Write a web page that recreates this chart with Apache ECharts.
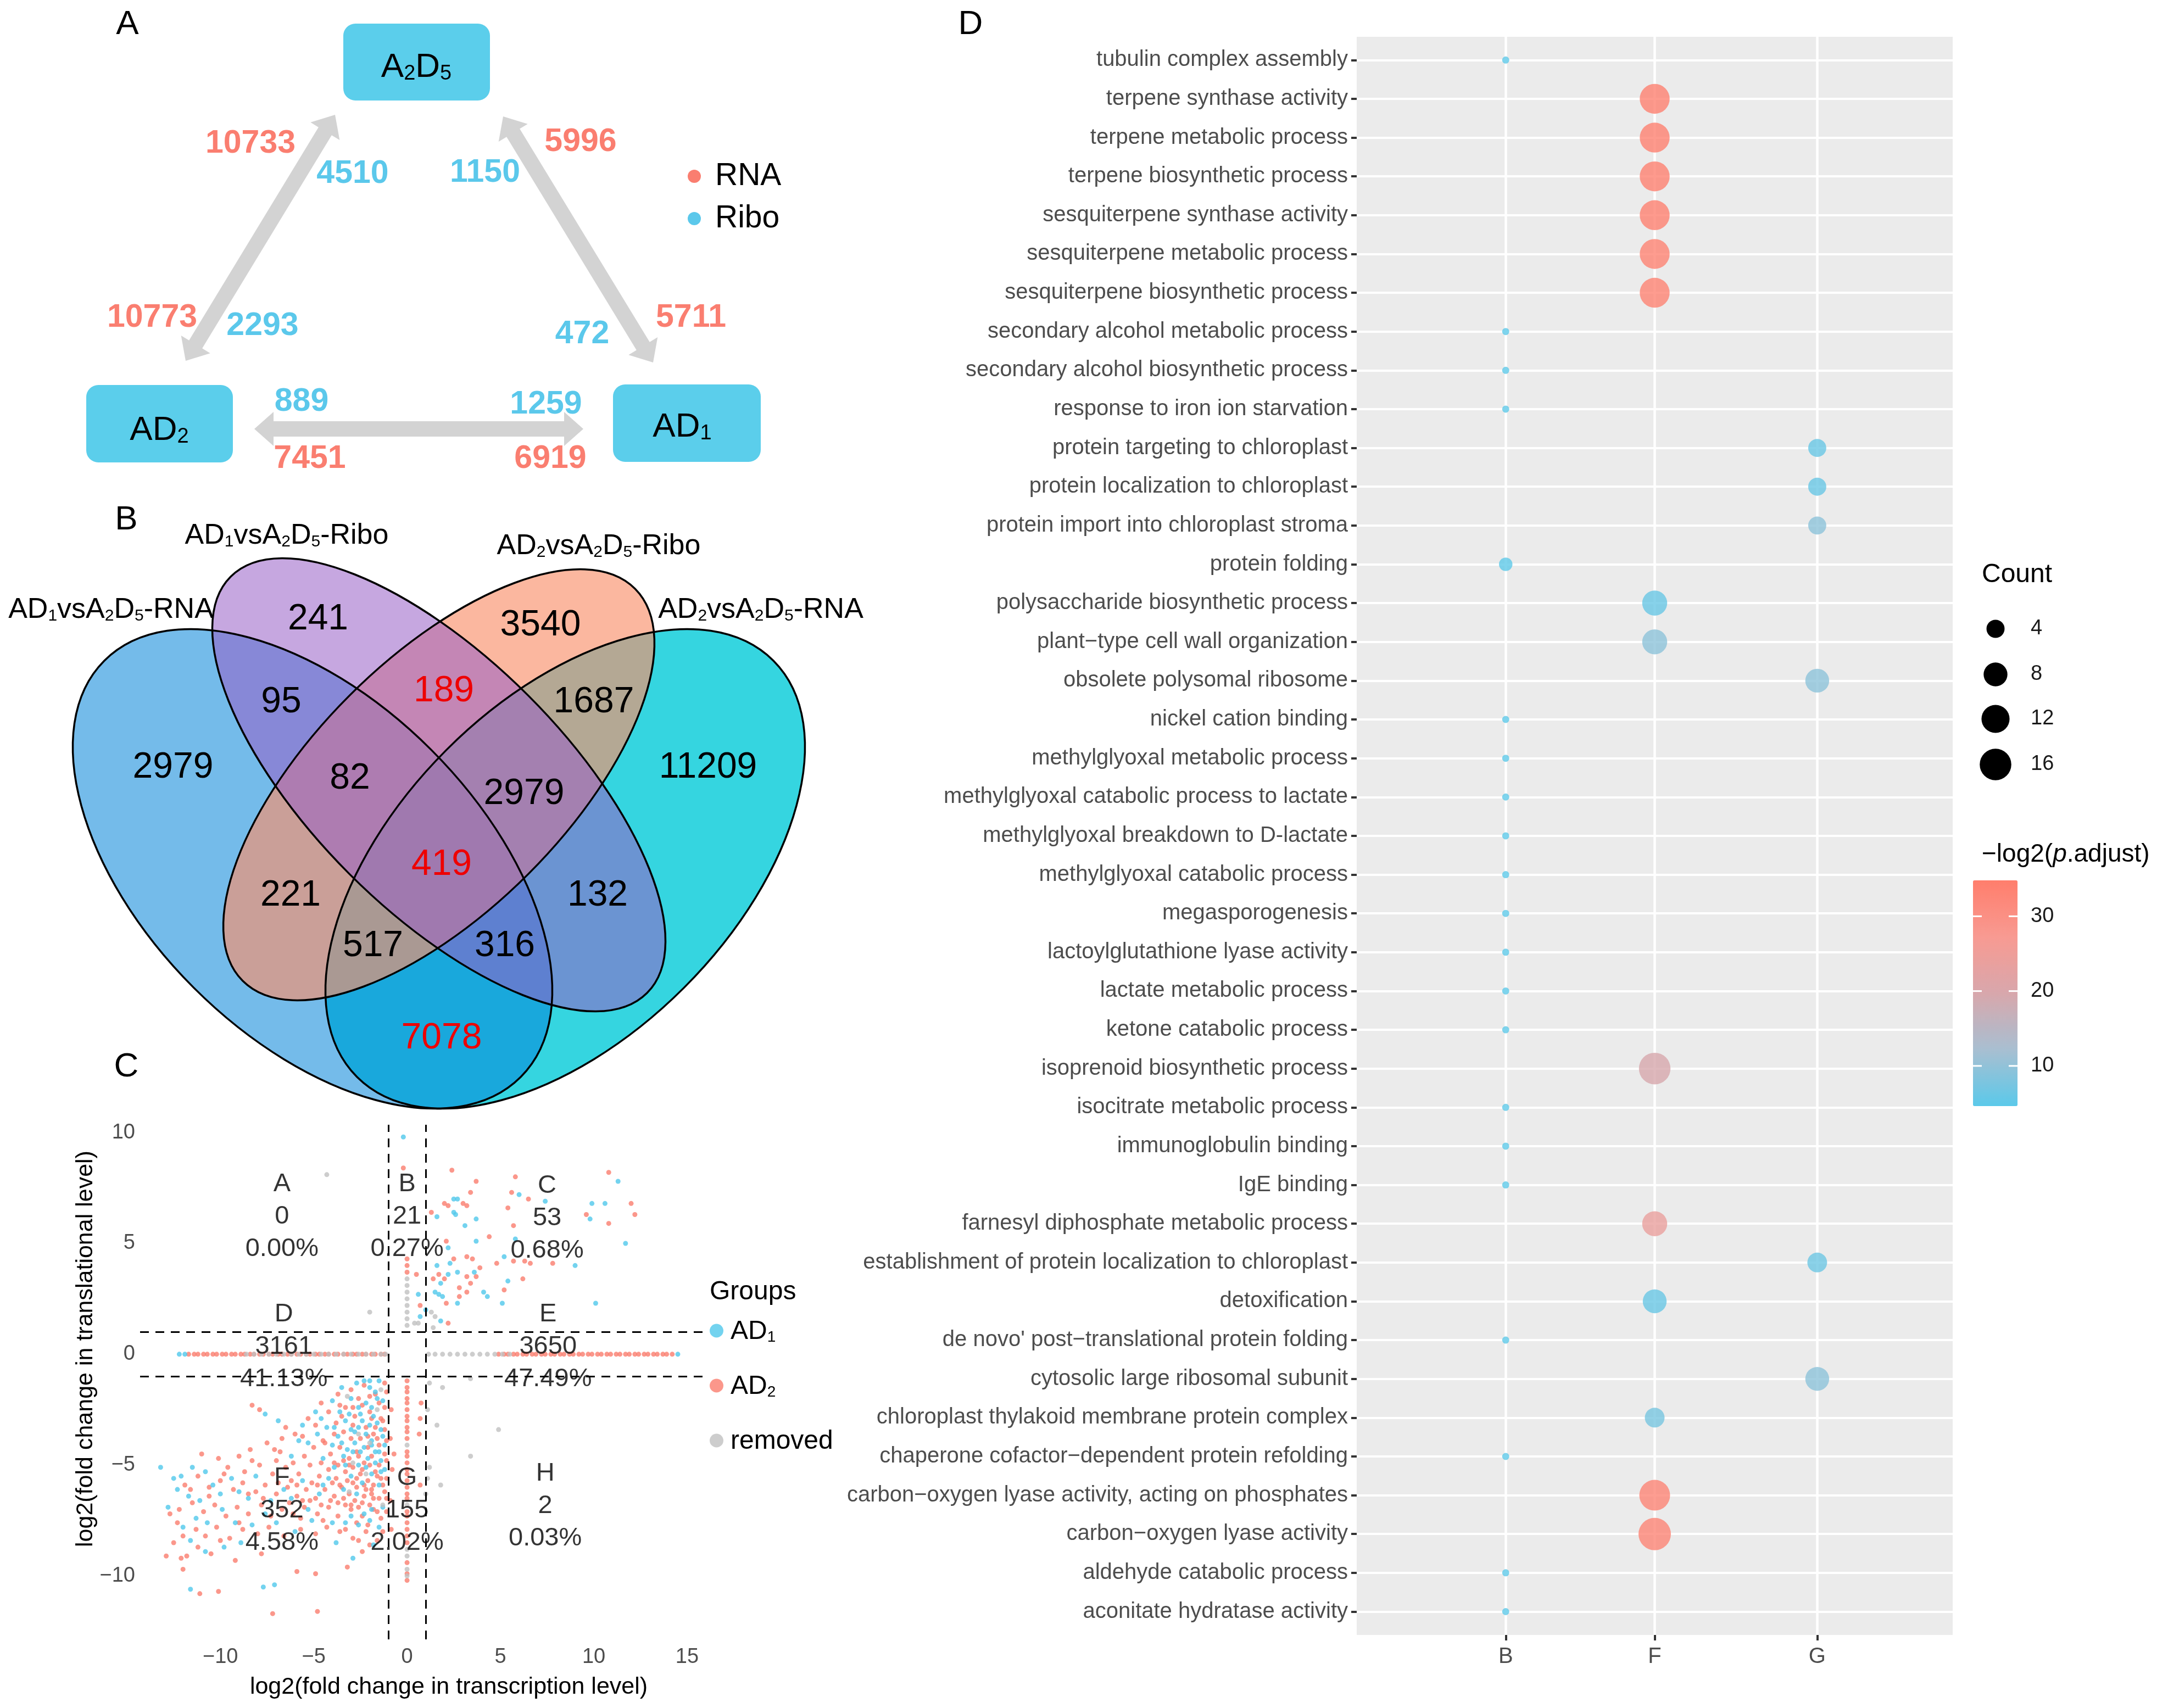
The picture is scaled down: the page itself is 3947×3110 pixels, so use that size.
<!DOCTYPE html>
<html><head><meta charset="utf-8">
<script src="https://cdn.jsdelivr.net/npm/echarts@6/dist/echarts.min.js"></script>
<style>html,body{margin:0;padding:0;background:#fff}#c{width:3947px;height:3110px}</style>
</head><body><div id="c"></div>
<script>
const FONT = 'Liberation Sans, Arial, Helvetica, sans-serif';

// ---------------- Panel A data ----------------
const aNodes = ['A_2D_5', 'AD_2', 'AD_1'];
// numbers at each arrow end, order: A2D5 end / AD2 end of left arrow, A2D5 end / AD1 end of right arrow, AD2 end / AD1 end of bottom arrow
const aRNA  = [10733, 10773, 5996, 5711, 7451, 6919];
const aRibo = [4510, 2293, 1150, 472, 889, 1259];
const aLegend = ['RNA', 'Ribo'];

// ---------------- Panel B data ----------------
const vennSets = ['AD_1vsA_2D_5-RNA', 'AD_1vsA_2D_5-Ribo', 'AD_2vsA_2D_5-Ribo', 'AD_2vsA_2D_5-RNA'];
const vennCounts = [241, 3540, 95, 189, 1687, 2979, 82, 2979, 11209, 419, 221, 132, 517, 316, 7078];
const vennRed = [3, 9, 14];

// ---------------- Panel C data ----------------
const cGroups = ['AD_1', 'AD_2', 'removed'];
const cThresh = [-1, 1];
const quadNames  = ['A', 'B', 'C', 'D', 'E', 'F', 'G', 'H'];
const quadCounts = [0, 21, 53, 3161, 3650, 352, 155, 2];
const quadPct    = ['0.00%', '0.27%', '0.68%', '41.13%', '47.49%', '4.58%', '2.02%', '0.03%'];

const ad2Upper = [[-0.2,8.4],[2.4,8.3],[5.8,8.0],[10.8,8.2],[3.7,7.8],[3.4,7.3],[5.6,7.3],[6.5,7.0],[2.0,6.8],[2.2,6.7],[3.0,6.8],[3.2,6.7],[1.3,6.4],[5.4,6.6],[12.0,6.8],[12.2,6.3],[9.6,6.3],[10.8,5.9],[5.7,5.8],[4.4,5.3],[2.1,5.1],[3.2,4.4],[3.5,4.3],[2.5,4.3],[4.8,4.1],[5.7,4.2],[6.3,4.2],[6.6,4.1],[7.8,4.1],[3.9,3.9],[3.7,3.5],[3.2,3.5],[1.7,3.6],[0.5,3.6],[6.2,3.4],[3.4,3.2],[2.8,3.0],[1.4,3.4],[2.0,3.4],[5.2,2.9],[3.2,2.8],[2.8,2.6],[2.1,2.3],[0.7,2.2],[2.2,1.4]];
const ad2Lower = [[-8.3,-2.3],[-7.9,-2.5],[-6.5,-3.3],[-6.0,-3.6],[-5.3,-2.9],[-4.6,-2.2],[-4.2,-2.6],[-3.7,-1.8],[-3.3,-2.4],[-3.0,-1.6],[-2.6,-2.0],[-2.3,-1.4],[-2.0,-2.6],[-1.7,-1.8],[-1.4,-2.9],[-1.2,-1.3],
 [-3.8,-3.1],[-3.4,-3.5],[-2.9,-3.2],[-2.5,-3.8],[-2.2,-3.3],[-1.8,-3.6],[-1.5,-4.1],[-1.2,-3.4],[-4.5,-3.9],[-5.0,-4.2],[-4.1,-4.5],[-3.6,-4.2],[-3.1,-4.7],[-2.7,-4.4],[-2.3,-4.9],[-1.9,-4.6],[-1.5,-5.0],[-1.2,-4.5],
 [-6.8,-4.4],[-7.5,-4.0],[-8.4,-4.3],[-9.0,-4.6],[-10.1,-4.7],[-11.0,-4.5],[-9.6,-5.1],[-8.7,-5.3],[-7.9,-5.0],[-7.2,-5.4],[-6.5,-5.1],[-5.8,-5.4],[-5.2,-5.0],[-4.7,-5.5],[-4.2,-5.2],[-3.8,-5.6],[-3.3,-5.3],[-2.9,-5.8],[-2.5,-5.4],[-2.1,-5.7],[-1.7,-5.3],[-1.3,-5.9],
 [-11.9,-5.9],[-11.2,-5.5],[-10.6,-6.0],[-10.0,-5.7],[-9.3,-6.1],[-8.8,-5.8],[-8.1,-6.2],[-7.6,-5.9],[-7.0,-6.3],[-6.4,-6.0],[-5.9,-6.4],[-5.4,-6.1],[-4.9,-6.5],[-4.4,-6.1],[-3.9,-6.4],[-3.5,-6.0],[-3.1,-6.3],[-2.7,-6.0],[-2.3,-6.4],[-1.9,-6.1],[-1.5,-6.5],[-1.2,-6.2],[-3.6,-5.9],[-3.2,-5.7],[-2.8,-6.6],[-2.0,-6.8],
 [-12.7,-7.2],[-12.2,-7.0],[-11.5,-6.7],[-10.9,-7.1],[-10.3,-6.8],[-9.7,-7.3],[-9.1,-6.9],[-8.5,-7.2],[-7.8,-6.8],[-7.3,-7.3],[-6.7,-7.0],[-6.1,-7.2],[-5.5,-6.9],[-4.8,-7.2],[-4.2,-6.9],[-3.7,-7.3],[-3.0,-7.0],[-2.4,-7.3],[-1.8,-7.0],[-1.4,-7.4],
 [-12.0,-8.2],[-11.3,-7.9],[-10.8,-8.2],[-10.2,-7.8],[-9.5,-8.3],[-8.8,-7.9],[-8.0,-8.1],[-7.4,-7.8],[-6.6,-8.2],[-5.7,-7.9],[-4.9,-8.1],[-4.3,-7.8],[-3.6,-8.0],[-2.9,-8.3],[-2.2,-8.0],[-1.6,-8.4],
 [-12.9,-9.1],[-12.1,-9.2],[-12.0,-9.7],[-11.2,-8.7],[-10.5,-9.0],[-9.2,-9.3],[-7.8,-9.0],[-5.9,-9.8],[-4.9,-9.9],[-3.2,-9.6],[-2.4,-8.9],
 [-11.1,-10.8],[-10.1,-10.7],[-7.2,-11.7],[-4.8,-11.6],
 [-3.9,-4.9],[-3.4,-4.8],[-2.9,-5.1],[-2.4,-5.2],[-2.0,-5.0],[-1.6,-5.5],[-3.7,-6.7],[-3.3,-6.8],[-2.6,-6.9],[-2.2,-6.1],[-1.8,-5.9],[-1.4,-5.6],[-4.0,-5.8],[-4.6,-6.8],[-5.1,-5.8],[-5.6,-6.6],[-6.2,-5.7],[-6.9,-5.8],[-2.6,-4.6],[-2.1,-4.2],[-1.6,-3.8],[-1.3,-3.0],[-2.8,-2.8],[-3.5,-2.8],[-2.4,-2.3],[-1.9,-2.9],
 [-4.4,-4.0],[-3.9,-3.6],[-3.0,-3.8],[-2.1,-3.7],[-1.7,-3.3],[-1.1,-3.9],[-1.1,-4.8],[-1.1,-5.6],[-1.1,-6.5],[-1.1,-7.1],[-1.8,-6.5],[-2.4,-6.7],[-3.0,-6.8],[-3.4,-6.5],[-4.1,-6.6],[-4.5,-7.5],[-5.2,-6.6],[-5.7,-7.4],[-6.3,-6.7],[-2.7,-7.6],[-2.1,-7.7],[-1.3,-8.0],[-3.3,-7.9],[-2.0,-8.6],[-2.6,-8.4],[-4.6,-4.9],[-5.5,-4.6],[-6.1,-4.9],[-7.0,-4.8],[-3.6,-2.3],[-2.9,-2.4],[-2.0,-1.9],[-1.5,-2.2],[-1.2,-2.4],[-1.1,-1.7],[-4.9,-3.2],[-5.6,-3.7],[-3.1,-5.0],[-2.7,-5.6],[-2.3,-5.9],[-1.9,-6.3],[-1.6,-7.1],[-3.7,-5.0],[-4.8,-5.9],[-5.9,-5.9],[-7.7,-6.5],[-8.5,-6.3],[-9.0,-7.6],[-10.0,-8.4],[-10.6,-6.4],[-11.6,-6.1],[-12.3,-7.6],[-12.5,-8.5],[-11.8,-9.1],[-9.8,-5.4],[-8.3,-4.8],[-7.1,-4.3],[-6.7,-3.8],
 [0.75,-2.2],[0.7,-2.9],[0.65,-3.6],[0.7,-5.9],[-0.85,-2.5],[-0.9,-3.8],[-0.8,-5.2],[-0.9,-6.6],[-0.85,-7.9],[-0.7,-4.5]];
const ad2BandH = [-11.7,-11.4,-11.2,-10.9,-10.7,-10.4,-10.2,-9.9,-9.7,-9.4,-9.2,-8.9,-8.7,-8.4,-8.2,-7.9,-7.7,-7.4,-7.2,-6.9,-6.7,-6.4,-6.2,-5.9,-5.7,-5.4,-5.2,-4.9,-4.7,-4.4,-4.2,-3.9,-3.7,-3.4,-3.2,-2.9,-2.7,-2.4,-2.2,-1.9,-1.7,-1.4,-1.2,
 4.9,5.2,5.4,5.7,5.9,6.2,6.4,6.7,6.9,7.2,7.4,7.7,7.9,8.2,8.4,8.7,8.9,9.2,9.4,9.7,9.9,10.2,10.4,10.7,10.9,11.2,11.4,11.7,11.9,12.2,12.4,12.7,12.9,13.2,13.4,13.7,13.9,14.2];
const ad2BandV = [4.3,4.0,3.7,-1.2,-1.5,-1.7,-2.0,-2.2,-2.5,-2.8,-3.0,-3.3,-3.5,-3.8,-4.4,-4.6,-4.9,-5.2,-5.4,-5.7,-6.0,-6.3,-6.5,-7.1,-7.3,-7.6,-7.9,-8.2,-8.5,-9.4,-9.9,-10.2];

const ad1Upper = [[-0.2,9.8],[11.3,7.8],[6.0,7.2],[2.5,7.0],[2.7,7.0],[2.5,6.4],[1.6,6.2],[2.6,6.3],[7.4,6.9],[9.9,6.8],[10.6,6.8],[9.8,6.1],[3.7,6.1],[3.1,5.8],[5.8,5.2],[11.7,5.0],[3.7,5.1],[2.2,4.8],[2.3,4.1],[9.0,4.0],[5.2,4.4],[1.6,4.0],[3.6,3.7],[2.7,3.7],[2.2,3.6],[5.4,3.3],[1.8,3.2],[1.5,2.8],[4.1,2.8],[1.7,2.7],[1.9,2.6],[4.3,2.6],[0.6,2.7],[2.7,2.3],[5.1,2.3],[10.1,2.3],[1.0,2.0],[1.8,1.5],[0.7,1.7]];
const ad1Lower = [[-7.6,-2.7],[-6.9,-3.0],[-5.6,-3.2],[-4.9,-2.6],[-4.0,-2.1],[-3.5,-1.5],[-3.0,-2.0],[-2.7,-1.3],[-2.3,-1.2],[-2.0,-1.5],[-1.7,-1.7],[-1.5,-1.2],[-1.3,-2.1],[-2.2,-2.2],[-2.5,-2.7],[-1.9,-2.4],
 [-3.3,-3.0],[-2.8,-3.5],[-2.4,-3.0],[-2.0,-3.2],[-1.6,-3.1],[-1.3,-3.7],[-1.9,-3.9],[-2.3,-4.2],[-2.8,-4.0],[-3.2,-4.3],[-3.7,-3.7],[-4.3,-3.3],[-4.8,-3.6],[-5.3,-4.0],[-5.8,-3.9],[-6.2,-4.6],[-1.7,-4.4],[-1.4,-4.8],[-2.1,-4.7],[-2.6,-5.0],[-3.0,-5.5],[-3.4,-4.6],[-4.0,-4.1],[-4.5,-4.7],
 [-13.2,-5.1],[-12.5,-5.6],[-12.1,-5.5],[-11.5,-5.1],[-10.8,-5.3],[-10.0,-6.3],[-9.4,-5.6],[-8.5,-6.5],[-7.3,-6.6],[-6.2,-6.5],[-5.3,-7.0],[-4.5,-5.9],[-3.9,-5.1],[-2.4,-5.8],[-1.9,-5.4],[-1.5,-5.9],[-1.2,-5.2],
 [-12.8,-6.9],[-12.3,-6.1],[-11.7,-6.4],[-11.3,-7.4],[-10.7,-7.6],[-9.9,-7.0],[-9.2,-7.6],[-8.3,-7.7],[-7.0,-7.6],[-6.0,-8.0],[-5.1,-7.5],[-4.0,-7.6],[-3.3,-7.6],[-2.6,-7.7],[-2.0,-7.5],[-1.5,-7.8],
 [-11.6,-8.4],[-10.8,-8.9],[-9.8,-8.7],[-8.9,-8.5],[-3.8,-8.5],[-2.9,-9.2],[-1.8,-8.6],
 [-3.6,-2.6],[-3.1,-2.7],[-2.6,-2.4],[-1.8,-2.8],[-1.4,-3.4],[-2.2,-3.6],[-2.6,-3.3],[-3.0,-3.4],[-3.5,-4.0],[-2.5,-4.4],[-1.9,-4.1],[-1.5,-4.4],[-1.2,-4.1],[-2.9,-4.4],[-3.3,-5.0],[-2.2,-5.1],[-1.7,-4.9],[-1.4,-5.3],[-2.7,-6.3],[-3.4,-6.1],[-4.2,-5.6],[-4.7,-6.3],[-5.6,-5.7],[-6.6,-6.1],[-7.6,-7.2],[-8.1,-5.5],[-9.0,-6.2],[-10.4,-5.9],[-11.1,-6.6],[-12.0,-7.8],[-1.9,-7.0],[-2.3,-7.2],[-3.0,-7.3],[-1.3,-6.9],[-3.9,-3.3],[-4.6,-2.9],[-2.0,-1.2],[-1.6,-2.0],
 [-11.6,-10.6],[-7.7,-10.5],[-7.1,-10.4],[-12.2,0],[-11.9,0],[14.5,0]];
const removedPts = [[-4.3,8.1],[-2.0,1.9],[1.3,1.9],[1.5,1.7],[0.6,1.4],[1.4,1.2],[0.4,1.4],
 [1.2,-1.3],[1.9,-1.5],[3.4,-1.1],[1.1,-2.5],[1.6,-3.2],[4.9,-3.4],[3.4,-4.6],[1.2,-5.1],[1.8,-5.9],[1.1,-5.6],[1.0,-6.3],
 [-3.2,-1.9],[-2.6,-3.6],[-2.2,-5.4],[-3.1,-6.2],[-1.3,-6.8],[-2.0,-4.0],[-1.6,-2.5],[-2.9,-4.9],[-1.4,-1.6]];
const removedBandH = [-8.6,-8.2,-7.8,-7.4,-7.0,-6.6,-6.2,-5.8,-5.4,-5.0,-4.6,-4.2,-3.8,-3.4,-3.0,-2.6,-2.2,-1.8,-1.4,-1.15,1.15,1.5,1.9,2.3,2.7,3.1,3.5,3.9,4.3,4.7,5.1,5.5];
const removedBandV = [3.4,3.1,2.8,2.5,2.2,1.9,1.6,1.3,-4.1,-6.8,-8.8,-9.1,-9.7,-10.0];

// ---------------- Panel D data ----------------
const dTerms = ['tubulin complex assembly','terpene synthase activity','terpene metabolic process','terpene biosynthetic process','sesquiterpene synthase activity','sesquiterpene metabolic process','sesquiterpene biosynthetic process','secondary alcohol metabolic process','secondary alcohol biosynthetic process','response to iron ion starvation','protein targeting to chloroplast','protein localization to chloroplast','protein import into chloroplast stroma','protein folding','polysaccharide biosynthetic process','plant\u2212type cell wall organization','obsolete polysomal ribosome','nickel cation binding','methylglyoxal metabolic process','methylglyoxal catabolic process to lactate','methylglyoxal breakdown to D-lactate','methylglyoxal catabolic process','megasporogenesis','lactoylglutathione lyase activity','lactate metabolic process','ketone catabolic process','isoprenoid biosynthetic process','isocitrate metabolic process','immunoglobulin binding','IgE binding','farnesyl diphosphate metabolic process','establishment of protein localization to chloroplast','detoxification',"de novo' post\u2212translational protein folding",'cytosolic large ribosomal subunit','chloroplast thylakoid membrane protein complex','chaperone cofactor\u2212dependent protein refolding','carbon\u2212oxygen lyase activity, acting on phosphates','carbon\u2212oxygen lyase activity','aldehyde catabolic process','aconitate hydratase activity'];
const dGroup = ['B','F','F','F','F','F','F','B','B','B','G','G','G','B','F','F','G','B','B','B','B','B','B','B','B','B','F','B','B','B','F','G','F','B','G','F','B','F','F','B','B'];
const dCount = [1,14,14,14,14,14,14,1,1,1,4,4,4,2,9,9,8,1,1,1,1,1,1,1,1,1,16,1,1,1,9,5,8,1,8,5,1,15,17,1,1];
const dScore = [5,34,34,34,34,33.5,33.5,5,5,5,6,6,9.5,5,6,9.5,9.5,5,5,5,5,5,5,5,5,5,19.5,5,5,5,24,6.5,6,5,9.5,7.5,5,33,33,5,5];
const dXCats = ['B','F','G'];
const countLegend = [4, 8, 12, 16];
const colorTicks = [30, 20, 10];
const colorRange = [4.63, 34.8];

// ---------------- helpers / styles ----------------
const RED = '#FA7E70', BLUE = '#5BC8EB';
const sizeFn = c => 13 + 46 * Math.sqrt((c - 1) / 16);
const subRich = (s) => s.split(/_(\d)/).map((p, i) => p === '' ? '' : (i % 2 ? '{s|' + p + '}' : '{n|' + p + '}')).join('');
const richFor = (n, s, col, sLH) => ({ n: {fontSize: n, fontFamily: FONT, fill: col, color: col, verticalAlign: 'bottom', lineHeight: Math.round(n * 1.15)},
                                  s: {fontSize: s, fontFamily: FONT, fill: col, color: col, verticalAlign: 'bottom', lineHeight: sLH || s} });
function txt(x, y, text, size, color, extra) {
  return Object.assign({type: 'text', x, y, silent: true,
    style: Object.assign({text: String(text), fontSize: size, fontFamily: FONT, fill: color, align: 'center', verticalAlign: 'middle'}, (extra && extra.style) || {})},
    extra && extra.rotation !== undefined ? {rotation: extra.rotation} : {});
}
function arrowPts(x1, y1, x2, y2, shaft, headW, headL) {
  const L = Math.hypot(x2 - x1, y2 - y1), dx = (x2 - x1) / L, dy = (y2 - y1) / L, nx = -dy, ny = dx;
  const b1 = [x1 + dx * headL, y1 + dy * headL], b2 = [x2 - dx * headL, y2 - dy * headL];
  const o = (p, s) => [p[0] + nx * s, p[1] + ny * s];
  return [[x1, y1], o(b1, headW / 2), o(b1, shaft / 2), o(b2, shaft / 2), o(b2, headW / 2), [x2, y2], o(b2, -headW / 2), o(b2, -shaft / 2), o(b1, -shaft / 2), o(b1, -headW / 2)];
}

const G = [];
// panel letters
[['A', 232, 45], ['B', 230, 947], ['C', 230, 1943], ['D', 1767, 45]].forEach(p => G.push(txt(p[1], p[2], p[0], 62, '#000')));

// ---- Panel A ----
const aBoxes = [[625, 43, 267, 140], [157, 701, 267, 141], [1116, 700, 269, 141]];
const aBoxText = [[758, 118], [290, 779], [1242, 773]];
const aArrows = [[338, 657, 610, 209], [916, 212, 1189, 660], [463, 781, 1062, 781]];
aArrows.forEach(a => G.push({type: 'polygon', silent: true, shape: {points: arrowPts(a[0], a[1], a[2], a[3], 28, 62, 35)}, style: {fill: '#D3D3D3'}}));
aBoxes.forEach((b, i) => {
  G.push({type: 'rect', silent: true, shape: {x: b[0], y: b[1], width: b[2], height: b[3], r: 22}, style: {fill: '#5BCEEB'}});
  G.push({type: 'text', x: aBoxText[i][0], y: aBoxText[i][1], silent: true,
    style: {text: subRich(aNodes[i]), align: 'center', verticalAlign: 'middle', rich: richFor(62, 38, '#000', 30)}});
});
const aRnaAt  = [[456, 262], [277, 579], [1057, 259], [1258, 579], [564, 836], [1002, 836]];
const aRiboAt = [[642, 317], [478, 594], [883, 315], [1060, 609], [549, 732], [994, 737]];
aRNA.forEach((v, i) => G.push(txt(aRnaAt[i][0], aRnaAt[i][1], v, 59, RED, {style: {fontWeight: 'bold'}})));
aRibo.forEach((v, i) => G.push(txt(aRiboAt[i][0], aRiboAt[i][1], v, 59, BLUE, {style: {fontWeight: 'bold'}})));
aLegend.forEach((t, i) => {
  G.push({type: 'circle', silent: true, shape: {cx: 1264, cy: 321 + i * 77, r: 12}, style: {fill: i ? BLUE : RED}});
  G.push(txt(1302, 321 + i * 77, t, 57, '#000', {style: {align: 'left'}}));
});

// ---- Panel B (Venn) ----
const vennShapes = [ // cx, cy, rx, ry, rotation, fill ; drawing order: cyan, blue, peach, purple
  [1029, 1582, 536, 306,  Math.PI / 4, 'rgba(3,202,216,0.8)'],
  [569,  1582, 536, 306, -Math.PI / 4, 'rgba(2,131,217,0.55)'],
  [799,  1429, 505, 230,  Math.PI / 4, 'rgba(249,145,108,0.65)'],
  [799,  1429, 536, 230, -Math.PI / 4, 'rgba(151,95,199,0.55)']];
vennShapes.forEach(e => G.push({type: 'ellipse', silent: true, x: e[0], y: e[1], rotation: e[4], shape: {cx: 0, cy: 0, rx: e[2], ry: e[3]}, style: {fill: e[5]}}));
vennShapes.forEach(e => G.push({type: 'ellipse', silent: true, x: e[0], y: e[1], rotation: e[4], shape: {cx: 0, cy: 0, rx: e[2], ry: e[3]}, style: {fill: 'none', stroke: '#000', lineWidth: 3.5}}));
const vennAt = [[579, 1128], [984, 1139], [512, 1279], [808, 1259], [1081, 1279], [315, 1398], [637, 1418], [954, 1446], [1289, 1398], [804, 1575], [529, 1631], [1088, 1631], [679, 1723], [919, 1723], [804, 1891]];
vennCounts.forEach((v, i) => G.push(txt(vennAt[i][0], vennAt[i][1], v, 66, vennRed.includes(i) ? '#EE0000' : '#000')));
const vennSetAt = [[202, 1107], [522, 972], [1090, 991], [1385, 1107]];
vennSets.forEach((s, i) => G.push({type: 'text', x: vennSetAt[i][0], y: vennSetAt[i][1], silent: true,
  style: {text: subRich(s), align: 'center', verticalAlign: 'middle', rich: richFor(52, 30, '#000')}}));

// ---- Panel C extras ----
G.push(txt(817, 3072, 'log2(fold change in transcription level)', 43, '#000'));
G.push(txt(156, 2456, 'log2(fold change in translational level)', 43, '#000', {rotation: Math.PI / 2}));
G.push(txt(1292, 2353, 'Groups', 48, '#000', {style: {align: 'left'}}));

// ---- Panel D legends ----
G.push(txt(3608, 1047, 'Count', 48, '#000', {style: {align: 'left'}}));
const countY = [1145, 1228, 1309, 1392];
countLegend.forEach((c, i) => {
  G.push({type: 'circle', silent: true, shape: {cx: 3633, cy: countY[i], r: sizeFn(c) / 2}, style: {fill: '#000'}});
  G.push(txt(3697, countY[i], c, 38, '#1A1A1A', {style: {align: 'left'}}));
});
G.push({type: 'text', x: 3608, y: 1556, silent: true, style: {text: '{a|\u2212log2(}{i|p}{a|.adjust)}', align: 'left', verticalAlign: 'middle',
  rich: {a: {fontSize: 46, fontFamily: FONT, fill: '#000'}, i: {fontSize: 46, fontFamily: FONT, fontStyle: 'italic', fill: '#000'}}}});
const CB = {x: 3592, y: 1603, w: 81, h: 411};
colorTicks.forEach(v => {
  const y = CB.y + (colorRange[1] - v) / (colorRange[1] - colorRange[0]) * CB.h;
  G.push({type: 'line', silent: true, z: 10, shape: {x1: CB.x, y1: y, x2: CB.x + 16, y2: y}, style: {stroke: '#fff', lineWidth: 3}});
  G.push({type: 'line', silent: true, z: 10, shape: {x1: CB.x + CB.w - 16, y1: y, x2: CB.x + CB.w, y2: y}, style: {stroke: '#fff', lineWidth: 3}});
  G.push(txt(3697, y, v, 38, '#1A1A1A', {style: {align: 'left'}}));
});

// ---------------- series data ----------------
const ad2Data = ad2Upper.concat(ad2Lower, ad2BandH.map(x => [x, 0]), ad2BandV.map(y => [0, y]));
const ad1Data = ad1Upper.concat(ad1Lower);
const remData = removedPts.concat(removedBandH.map(x => [x, 0]), removedBandV.map(y => [0, y]));
const quadAt = [[-6.7, 6.2], [0, 6.2], [7.5, 6.15], [-6.6, 0.35], [7.55, 0.35], [-6.7, -7.05], [0, -7.05], [7.4, -6.84]];

const xSlots = new Array(45).fill('');
const dXSlotIndex = [11, 22, 34];
dXCats.forEach((c, i) => { xSlots[dXSlotIndex[i]] = c; });
const dData = dTerms.map((t, i) => [dXSlotIndex[dXCats.indexOf(dGroup[i])], i, dScore[i], dCount[i]]);
const showSlot = (i, v) => v !== '';

const fmt5 = v => (Math.abs(v / 5 - Math.round(v / 5)) < 1e-6) ? String(Math.round(v)).replace('-', '\u2212') : '';
const cAxisLabel = {fontSize: 38, color: '#4D4D4D', fontFamily: FONT, formatter: fmt5};

const option = {
  backgroundColor: '#fff',
  animation: false,
  textStyle: {fontFamily: FONT},
  grid: [
    {left: 255, top: 2048, width: 1030, height: 937},
    {left: 2470, top: 67, width: 1085, height: 2910, show: true, backgroundColor: '#EBEBEB', borderWidth: 0},
    {left: 2470, top: 109.3, width: 1085, height: 2825.2}
  ],
  xAxis: [
    {gridIndex: 0, type: 'value', min: -14.3, max: 16, axisLine: {show: false}, axisTick: {show: false}, splitLine: {show: false},
     axisLabel: Object.assign({margin: 14}, cAxisLabel)},
    {gridIndex: 1, type: 'category', data: xSlots, boundaryGap: false, axisLine: {show: false},
     axisTick: {show: true, length: 10, interval: showSlot, lineStyle: {color: '#333', width: 4}},
     axisLabel: {interval: showSlot, fontSize: 40, color: '#4D4D4D', fontFamily: FONT, margin: 20},
     splitLine: {show: true, interval: showSlot, lineStyle: {color: '#fff', width: 4.5}}},
    {gridIndex: 2, type: 'category', data: xSlots, boundaryGap: false, show: false}
  ],
  yAxis: [
    {gridIndex: 0, type: 'value', min: -12.86, max: 10.35, axisLine: {show: false}, axisTick: {show: false}, splitLine: {show: false},
     axisLabel: Object.assign({margin: 9}, cAxisLabel)},
    {gridIndex: 1, type: 'value', min: 0, max: 1, show: false, splitLine: {show: false}},
    {gridIndex: 2, type: 'category', data: dTerms, inverse: true, boundaryGap: false, axisLine: {show: false},
     axisTick: {show: true, length: 10, interval: 0, lineStyle: {color: '#333', width: 4}},
     axisLabel: {interval: 0, fontSize: 40, color: '#4D4D4D', fontFamily: FONT, margin: 16},
     splitLine: {show: true, interval: 0, lineStyle: {color: '#fff', width: 4}}}
  ],
  legend: {
    data: cGroups, orient: 'vertical', left: 1292, top: 2397, padding: 0,
    itemWidth: 25, itemHeight: 25, itemGap: 48, icon: 'circle', selectedMode: false,
    formatter: n => subRich(n),
    textStyle: {fontSize: 48, lineHeight: 50, padding: [0, 0, 0, 8], rich: {
      n: {fontSize: 48, fontFamily: FONT, color: '#000', verticalAlign: 'bottom', lineHeight: 52},
      s: {fontSize: 28, fontFamily: FONT, color: '#000', verticalAlign: 'bottom', lineHeight: 28}}}
  },
  visualMap: {
    type: 'continuous', seriesIndex: 4, dimension: 2, min: colorRange[0], max: colorRange[1],
    left: CB.x, top: CB.y, itemWidth: CB.w, itemHeight: CB.h, padding: 0, calculable: false, realtime: false,
    text: null, showLabel: false, hoverLink: false,
    inRange: {color: ['#5BC9EA', '#A8BFD1', '#D8A7AC', '#F89A92', '#FF7E6C']}
  },
  series: [
    {name: 'AD_2', type: 'scatter', xAxisIndex: 0, yAxisIndex: 0, symbolSize: 9, silent: true, itemStyle: {color: '#FA7D6E'}, data: ad2Data,
     markLine: {silent: true, symbol: ['none', 'none'], label: {show: false},
       lineStyle: {type: [16, 12], color: '#000', width: 3},
       data: cThresh.map(v => ({yAxis: v})).concat(cThresh.map(v => ({xAxis: v})))}},
    {name: 'AD_1', type: 'scatter', xAxisIndex: 0, yAxisIndex: 0, symbolSize: 9, silent: true, itemStyle: {color: '#50C8EB'}, data: ad1Data},
    {name: 'removed', type: 'scatter', xAxisIndex: 0, yAxisIndex: 0, symbolSize: 9, silent: true, itemStyle: {color: '#C0C0C0'}, data: remData},
    {name: 'quadrants', type: 'scatter', xAxisIndex: 0, yAxisIndex: 0, symbolSize: 0, silent: true, z: 5,
     data: quadAt.map((p, i) => [p[0], p[1], i]),
     label: {show: true, position: 'inside', color: '#000', fontSize: 47, lineHeight: 59, fontFamily: FONT,
       formatter: p => quadNames[p.value[2]] + '\n' + quadCounts[p.value[2]] + '\n' + quadPct[p.value[2]]}},
    {name: 'GO', type: 'scatter', xAxisIndex: 2, yAxisIndex: 2, silent: true, data: dData,
     symbolSize: v => sizeFn(v[3]), z: 3}
  ],
  graphic: {elements: G}
};
const chart = echarts.init(document.getElementById('c'), null, {width: 3947, height: 3110});
chart.setOption(option);
</script></body></html>
